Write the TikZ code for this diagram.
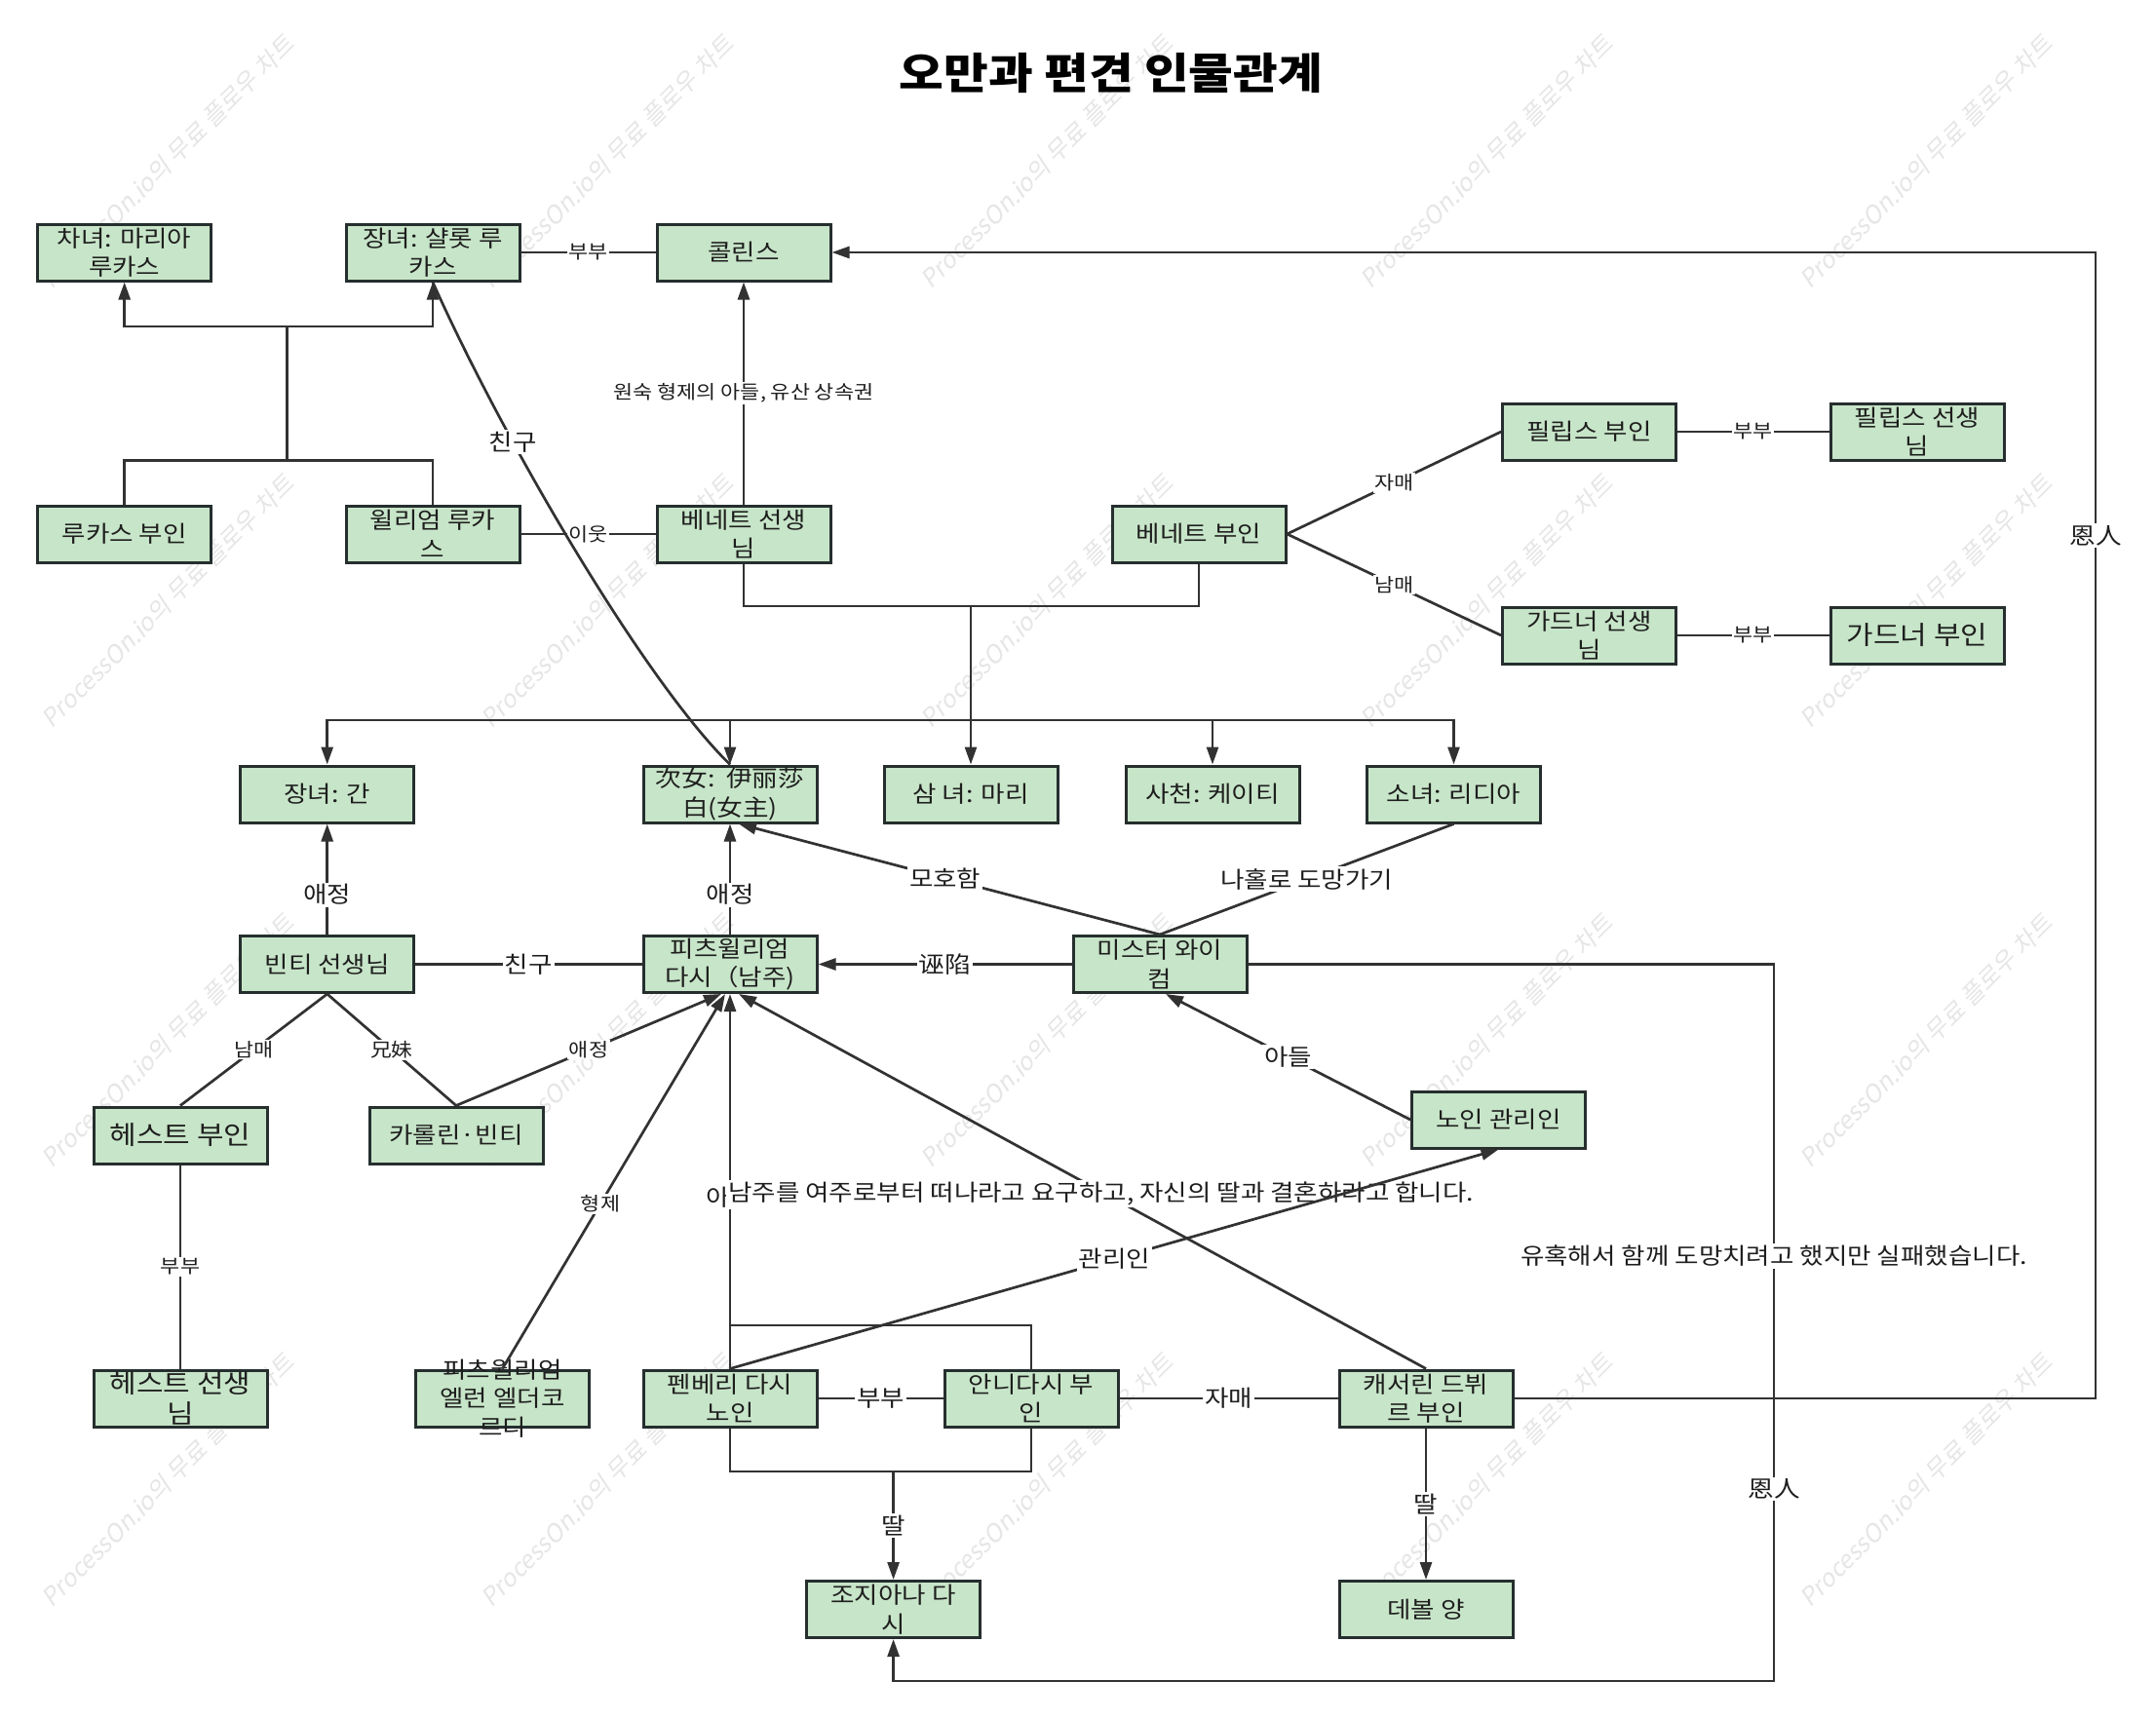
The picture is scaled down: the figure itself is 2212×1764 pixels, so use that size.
\documentclass[tikz,border=0pt]{standalone}
\usepackage{fontspec}
\setmainfont{Noto Sans CJK KR}[FakeStretch=1.13]
\newfontfamily\wmfont[FakeSlant=0.2]{Noto Sans CJK KR}
\usetikzlibrary{arrows.meta}
\definecolor{boxfill}{RGB}{199,229,200}
\definecolor{boxline}{RGB}{38,46,46}
\definecolor{edgecol}{RGB}{50,50,50}
\definecolor{wmcol}{RGB}{230,230,230}
\definecolor{txtcol}{RGB}{30,30,30}
\tikzset{
  person/.style={draw=boxline, fill=boxfill, line width=3pt, minimum width=178pt, minimum height=58pt, inner sep=0pt, align=center, text=txtcol, font=\fontsize{23.5}{29.5}\selectfont},
  bigperson/.style={person, font=\fontsize{26.5}{31}\selectfont},
  link/.style={draw=edgecol, line width=2.7pt},
  arr/.style={link, -{Triangle[length=18pt,width=12pt]}},
  lbl/.style={fill=white, inner sep=2pt, text=txtcol, font=\fontsize{23.5}{28}\selectfont},
  slbl/.style={fill=white, inner sep=1.5pt, text=txtcol, font=\fontsize{19.3}{22}\selectfont},
  wm/.style={rotate=45, text=wmcol, font=\wmfont\fontsize{25}{30}\selectfont}
}
\begin{document}
\begin{tikzpicture}[x=1pt,y=-1pt]
\useasboundingbox (0,0) rectangle (2212,1764);
\fill[white] (0,0) rectangle (2212,1764);
% watermark
\foreach \i in {0,...,4}{\foreach \j in {0,...,3}{
  \node[wm] (wm\i\j) at ({172+451*\i},{166+451*\j}) {ProcessOn.io의 무료 플로우 차트};
}}
% title
\node[font=\fontsize{44}{50}\selectfont\bfseries, text=black] (title) at (1140,75) {오만과 편견 인물관계};
% nodes
\node[person] (maria) at (127.7,259) {차녀: 마리아\\루카스};
\node[person] (charlotte) at (444,259) {장녀: 샬롯 루\\카스};
\node[person] (collins) at (763,259) {콜린스};
\node[person] (mrslucas) at (127.7,548) {루카스 부인};
\node[person] (william) at (444,548) {윌리엄 루카\\스};
\node[person] (mrbennet) at (763,548) {베네트 선생\\님};
\node[person] (mrsbennet) at (1230,548) {베네트 부인};
\node[person] (mrsphilips) at (1630.6,443) {필립스 부인};
\node[person] (mrphilips) at (1967,443) {필립스 선생\\님};
\node[person] (mrgardiner) at (1630.6,652) {가드너 선생\\님};
\node[bigperson] (mrsgardiner) at (1967,652) {가드너 부인};
\node[person] (jane) at (335.7,815) {장녀: 간};
\node[person] (eliz) at (749,815) {次女:\ \ 伊丽莎\\白(女主)};
\node[person] (mary) at (996,815) {삼 녀: 마리};
\node[person] (kitty) at (1244,815) {사천: 케이티};
\node[person] (lydia) at (1491.5,815) {소녀: 리디아};
\node[person] (bingley) at (335.7,989.5) {빈티 선생님};
\node[person] (darcy) at (749,989.5) {피츠윌리엄\\다시（남주)};
\node[person] (wickham) at (1190,989.5) {미스터 와이\\컴};
\node[person] (steward) at (1537.5,1149) {노인 관리인};
\node[bigperson] (mrshurst) at (185,1165) {헤스트 부인};
\node[person] (caroline) at (468,1165) {카롤린·빈티};
\node[bigperson] (mrhurst) at (185,1435) {헤스트 선생\\님};
\node[person] (ellen) at (515.5,1435) {};
\node[align=center, text=txtcol, font=\fontsize{23.5}{29.5}\selectfont] (ellentxt) at (515.5,1435) {피츠윌리엄\\엘런 엘더코\\르디};
\node[person] (pemb) at (749,1435) {펜베리 다시\\노인};
\node[person] (anne) at (1058,1435) {안니다시 부\\인};
\node[person] (catherine) at (1463,1435) {캐서린 드뷔\\르 부인};
\node[person] (georgiana) at (916.6,1651.5) {조지아나 다\\시};
\node[person] (debourgh) at (1463,1651.5) {데볼 양};
% Lucas family
\coordinate (lj) at (294.6,472.6);
\coordinate (lu) at (294.6,334.9);
\draw[link] (mrslucas.north) |- (lj) -| (william.north);
\draw[link] (lj) -- (lu);
\draw[arr] (lu) -| (maria.south);
\draw[arr] (lu) -| (charlotte.south);
\draw[link] (charlotte.east) -- node[slbl]{부부} (collins.west);
\draw[link] (william.east) -- node[slbl]{이웃} (mrbennet.west);
\draw[arr] (mrbennet.north) -- node[slbl]{원숙 형제의 아들, 유산 상속권} (collins.south);
% Bennet family
\coordinate (bj) at (996,622);
\coordinate (bd) at (996,739);
\draw[link] (mrbennet.south) |- (bj) -| (mrsbennet.south);
\draw[link] (bj) -- (bd);
\draw[arr] (bd) -| (jane.north);
\draw[arr] (bd) -| (eliz.north);
\draw[arr] (bd) -- (mary.north);
\draw[arr] (bd) -| (kitty.north);
\draw[arr] (bd) -| (lydia.north);
\draw[link] (mrsbennet.east) -- node[slbl]{자매} (mrsphilips.west);
\draw[link] (mrsbennet.east) -- node[slbl]{남매} (mrgardiner.west);
\draw[link] (mrsphilips.east) -- node[slbl]{부부} (mrphilips.west);
\draw[link] (mrgardiner.east) -- node[slbl]{부부} (mrsgardiner.west);
% Elizabeth - Charlotte
\draw[link] (eliz.north) .. controls (663,701) and (518,455) .. node[lbl,pos=0.7]{친구} (charlotte.south);
% middle row
\draw[arr] (bingley.north) -- node[lbl,pos=0.36]{애정} (jane.south);
\draw[arr] (darcy.north) -- node[lbl,pos=0.36]{애정} (eliz.south);
\draw[link] (bingley.east) -- node[lbl]{친구} (darcy.west);
\draw[arr] (wickham.west) -- node[lbl]{诬陷} (darcy.east);
\draw[arr] (wickham.north) -- node[lbl,pos=0.51]{모호함} ([xshift=9pt]eliz.south);
\draw[link] (lydia.south) -- node[lbl]{나홀로 도망가기} (wickham.north);
\draw[arr] (steward.west) -- node[lbl,pos=0.5]{아들} ([xshift=6pt]wickham.south);
\draw[link] (bingley.south) -- node[slbl]{남매} (mrshurst.north);
\draw[link] (bingley.south) -- node[slbl]{兄妹} (caroline.north);
\draw[arr] (caroline.north) -- node[slbl]{애정} ([xshift=-9pt]darcy.south);
\draw[link] (mrshurst.south) -- node[slbl]{부부} (mrhurst.north);
\draw[arr] (ellen.north) -- node[slbl,pos=0.44]{형제} ([xshift=-5pt]darcy.south);
% Pemberley
\coordinate (pt) at (749,1360);
\draw[link] (anne.north) |- (pt);
\draw[arr] (pemb.north) -- node[lbl,pos=0.458]{아들} (darcy.south);
\draw[arr] (catherine.north) -- node[lbl,pos=0.467,xshift=-4pt]{남주를 여주로부터 떠나라고 요구하고, 자신의 딸과 결혼하라고 합니다.} ([xshift=9pt]darcy.south);
\draw[arr] (pemb.north) -- node[lbl]{관리인} (steward.south);
\draw[link] (pemb.east) -- node[lbl]{부부} (anne.west);
\draw[link] (anne.east) -- node[lbl]{자매} (catherine.west);
\coordinate (pb) at (916.6,1510);
\draw[link] (pemb.south) |- (pb) -| (anne.south);
\draw[arr] (pb) -- node[lbl]{딸} (georgiana.north);
\draw[arr] (catherine.south) -- node[lbl]{딸} (debourgh.north);
% long connectors
\coordinate (kc1) at (2150,1435);
\coordinate (kc2) at (2150,259);
\draw[arr] (catherine.east) -- (kc1) -- node[lbl,pos=0.753]{恩人} (kc2) -- (collins.east);
\coordinate (wg1) at (1820,989.5);
\coordinate (wg2) at (1820,1725);
\coordinate (wg3) at (916.6,1725);
\draw[arr] (wickham.east) -- (wg1) -- node[lbl,pos=0.407]{유혹해서 함께 도망치려고 했지만 실패했습니다.} node[lbl,pos=0.732]{恩人} (wg2) -- (wg3) -- (georgiana.south);
\end{tikzpicture}
\end{document}
